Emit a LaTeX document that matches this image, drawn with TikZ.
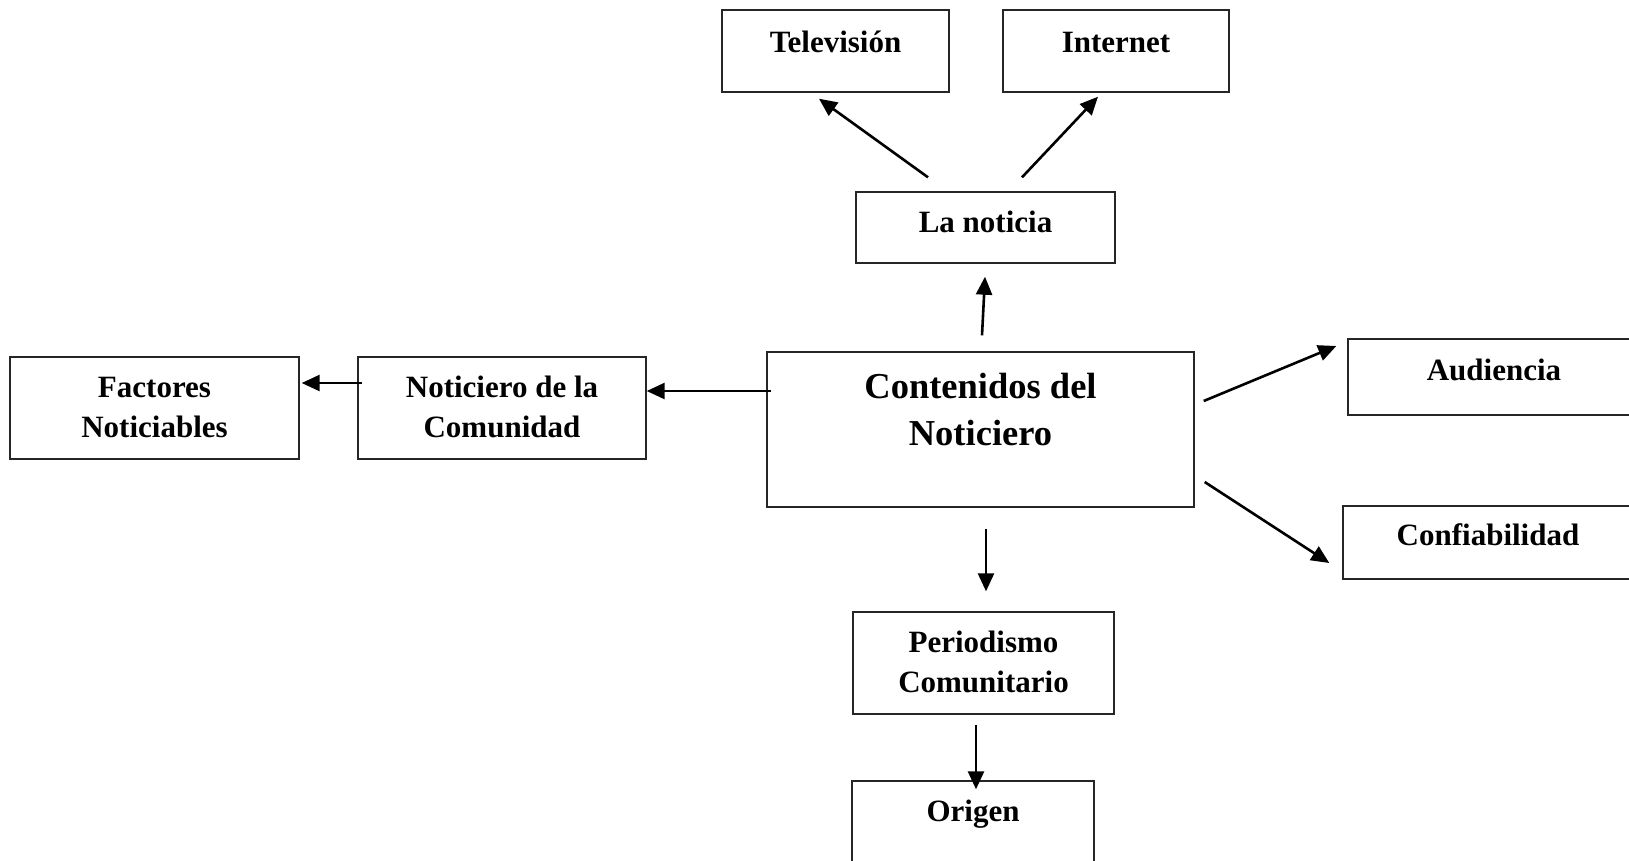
\documentclass[tikz,border=0pt]{standalone}
\usepackage{fontspec}
\setmainfont{Liberation Serif}
\usetikzlibrary{arrows.meta}
\begin{document}
\begin{tikzpicture}[x=1pt,y=-1pt,
  box/.style={draw=black!85,line width=1.4pt,inner sep=0pt,minimum width=#1},
  txt/.style={anchor=base,inner sep=0pt,font=\fontsize{31}{37}\selectfont\bfseries},
  bigtxt/.style={anchor=base,inner sep=0pt,font=\fontsize{36.5}{44}\selectfont\bfseries},
  arr/.style={line width=2.6pt,-{Triangle[length=18pt,width=16pt]}}]
\useasboundingbox (0,0) rectangle (1629,860);
\clip (0,0) rectangle (1629,860);
% boxes
\node[box=227pt,minimum height=82pt] (tv) at (835.5,51) {};
\node[box=226pt,minimum height=82pt] (inet) at (1116,51) {};
\node[box=259pt,minimum height=71pt] (ln) at (985.5,227.5) {};
\node[box=427pt,minimum height=155pt] (cont) at (980.5,429.5) {};
\node[box=288pt,minimum height=102pt] (noti) at (502,408) {};
\node[box=289pt,minimum height=102pt] (fact) at (154.5,408) {};
\node[box=292pt,minimum height=76pt] (aud) at (1494,377) {};
\node[box=297pt,minimum height=73pt] (conf) at (1491.5,542.5) {};
\node[box=261pt,minimum height=102pt] (per) at (983.5,663) {};
\node[box=242pt,minimum height=118pt] (ori) at (973,840) {};
% texts
\node[txt] (tvt) at (835.5,52) {Televisión};
\node[txt] (inett) at (1116,52) {Internet};
\node[txt] (lnt) at (985.5,232) {La noticia};
\node[bigtxt] (contt1) at (980.5,398) {Contenidos del};
\node[bigtxt] (contt2) at (980.5,445) {Noticiero};
\node[txt] (notit1) at (502,397) {Noticiero de la};
\node[txt] (notit2) at (502,437) {Comunidad};
\node[txt] (factt1) at (154.5,397) {Factores};
\node[txt] (factt2) at (154.5,437) {Noticiables};
\node[txt] (audt) at (1494,380) {Audiencia};
\node[txt] (conft) at (1488,545) {Confiabilidad};
\node[txt] (pert1) at (983.5,652) {Periodismo};
\node[txt] (pert2) at (983.5,692) {Comunitario};
\node[txt] (orit) at (973,821) {Origen};
% connectors
\draw[arr] ([shift={(-57.5,-14)}]ln.north) -- ([shift={(-16.5,6)}]tv.south);
\draw[arr] ([shift={(36.5,-14)}]ln.north) -- ([shift={(-18,4)}]inet.south);
\draw[arr] ([shift={(1.5,-16)}]cont.north) -- ([shift={(-0.5,13)}]ln.south);
\draw[arr] ([shift={(5,-38.5)}]cont.west) -- ([shift={(0,-17)}]noti.east);
\draw[arr] ([shift={(5,-25)}]noti.west) -- ([shift={(2,-25)}]fact.east);
\draw[arr] ([shift={(9,-28.5)}]cont.east) -- ([shift={(-11,-31)}]aud.west);
\draw[arr] ([shift={(10,52.5)}]cont.east) -- ([shift={(-13,20.5)}]conf.west);
\draw[arr] ([shift={(5.5,21)}]cont.south) -- ([shift={(2.5,-20)}]per.north);
\draw[arr] ([shift={(-7.5,10)}]per.south) -- ([shift={(3,9)}]ori.north);
\end{tikzpicture}
\end{document}
